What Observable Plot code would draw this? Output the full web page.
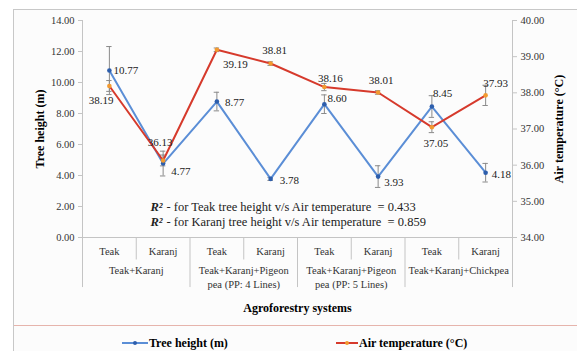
<!DOCTYPE html>
<html>
<head>
<meta charset="utf-8">
<script src="https://cdn.jsdelivr.net/npm/d3@7"></script>
<script src="https://cdn.jsdelivr.net/npm/@observablehq/plot@0.6"></script>
<style>
  html, body { margin: 0; padding: 0; background: #ffffff; }
  #chart { width: 577px; height: 351px; overflow: hidden; }
  #chart svg text { font-family: 'Liberation Serif', 'Times New Roman', serif; }
  g[aria-label="y-axis tick label"] text { font-size: 10.5px; fill: #333; }
  g[aria-label="y-axis label"] text { font-weight: bold; font-size: 12px; fill: #000; }
</style>
</head>
<body>
<div id="chart"></div>
<script>
// ---- data ----
const subcats = ["Teak", "Karanj", "Teak", "Karanj", "Teak", "Karanj", "Teak", "Karanj"];
const groups = ["Teak+Karanj", "Teak+Karanj+Pigeon\npea (PP: 4 Lines)", "Teak+Karanj+Pigeon\npea (PP: 5 Lines)", "Teak+Karanj+Chickpea"];
const treeHeight = [10.77, 4.77, 8.77, 3.78, 8.60, 3.93, 8.45, 4.18];
const treeHeightErr = [1.55, 0.8, 0.6, 0.1, 0.6, 0.7, 0.7, 0.6];
const airTemp = [38.19, 36.13, 39.19, 38.81, 38.16, 38.01, 37.05, 37.93];
const airTempErr = [0.15, 0.15, 0.05, 0.05, 0.1, 0.05, 0.15, 0.28];
const leftTicks = [0, 2, 4, 6, 8, 10, 12, 14];
const rightTicks = [34, 35, 36, 37, 38, 39, 40];
const r2Lines = ["- for Teak tree height v/s Air temperature  = 0.433", "- for Karanj tree height v/s Air temperature  = 0.859"];
const legendLabels = ["Tree height (m)", "Air temperature (°C)"];

// label offsets (pixels) — layout only
const hOff = [[4, 0, "start"], [8, 8, "start"], [8, 1, "start"], [9, 2, "start"], [3, -6, "start"], [6, 6, "start"], [1, -13, "start"], [6, 2, "start"]];
const tOff = [[4, 15, "end"], [-3, -18, "middle"], [6, 15, "start"], [4, -13, "middle"], [6, -9, "middle"], [3, -12, "middle"], [4, 16, "middle"], [10, -12, "middle"]];

// secondary axis mapping: temperature 34..40 onto height 0..14
const toH = t => (t - 34) * 14 / 6;
const fromH = h => h * 6 / 14 + 34;

const rows = subcats.map((s, i) => ({
  i, x: i + 0.5, sub: s,
  h: treeHeight[i], he: treeHeightErr[i],
  t: airTemp[i], th: toH(airTemp[i]), te: airTempErr[i]
}));
const groupRows = groups.map((g, j) => ({x: 2 * j + 1, g}));

const serif = "'Liberation Serif', 'Times New Roman', serif";
const grey = "#c4c4c4";
const errC = "#8a8a8a";
const blue = "#5b8ed6", blueDot = "#2d5eac";
const red = "#d63a2c", redDot = "#f29a30";

const labelMarks = [];
rows.forEach(d => {
  labelMarks.push(Plot.text([d], {x: "x", y: "h", text: d => d.h.toFixed(2), dx: hOff[d.i][0], dy: hOff[d.i][1], textAnchor: hOff[d.i][2], fontSize: 11, fontFamily: serif, fill: "#222"}));
  labelMarks.push(Plot.text([d], {x: "x", y: "th", text: d => d.t.toFixed(2), dx: tOff[d.i][0], dy: tOff[d.i][1], textAnchor: tOff[d.i][2], fontSize: 11, fontFamily: serif, fill: "#222"}));
});

const chart = Plot.plot({
  width: 577,
  height: 351,
  marginTop: 20,
  marginBottom: 114,
  marginLeft: 82,
  marginRight: 65,
  style: {fontFamily: serif, fontSize: "10px", color: "#333", background: "transparent"},
  x: {domain: [0, 8], axis: null},
  y: {domain: [0, 14]},
  marks: [
    // frame lines
    Plot.ruleY([0], {x1: 0, x2: 8, stroke: grey}),
    Plot.ruleX([0, 8], {y1: -3.23, y2: 14, stroke: grey}),
    Plot.ruleX([1, 3, 5, 7], {y1: 0, y2: -1.45, stroke: grey}),
    Plot.ruleX([2, 4, 6], {y1: 0, y2: -3.23, stroke: grey}),
    // axes
    Plot.axisY({ticks: leftTicks, tickFormat: d => d.toFixed(2), tickSize: 4, tickPadding: 4, fontFamily: serif, label: "Tree height (m)", labelAnchor: "center", labelArrow: "none", labelOffset: 47, stroke: grey}),
    Plot.axisY({anchor: "right", ticks: rightTicks.map(toH), tickFormat: v => fromH(v).toFixed(2), tickSize: 4, tickPadding: 4, fontFamily: serif, label: "Air temperature (°C)", labelAnchor: "center", labelArrow: "none", labelOffset: 50, stroke: grey}),
    // category labels
    Plot.text(rows, {x: "x", y: 0, text: "sub", dy: 14, fontSize: 10.5, fontFamily: serif, fill: "#333"}),
    Plot.text(groupRows, {x: "x", y: 0, text: "g", dy: 26, lineAnchor: "top", lineHeight: 1.35, fontSize: 10.5, fontFamily: serif, fill: "#333"}),
    Plot.text(["Agroforestry systems"], {x: 4, y: 0, text: d => d, dy: 71, fontSize: 12, fontWeight: "bold", fontFamily: serif, fill: "#000"}),
    // error bars
    Plot.ruleX(rows, {x: "x", y1: d => d.h - d.he, y2: d => d.h + d.he, stroke: errC}),
    Plot.ruleY(rows, {y: d => d.h + d.he, x1: d => d.x - 0.05, x2: d => d.x + 0.05, stroke: errC}),
    Plot.ruleY(rows, {y: d => d.h - d.he, x1: d => d.x - 0.05, x2: d => d.x + 0.05, stroke: errC}),
    Plot.ruleX(rows, {x: "x", y1: d => toH(d.t - d.te), y2: d => toH(d.t + d.te), stroke: errC}),
    Plot.ruleY(rows, {y: d => toH(d.t + d.te), x1: d => d.x - 0.05, x2: d => d.x + 0.05, stroke: errC}),
    Plot.ruleY(rows, {y: d => toH(d.t - d.te), x1: d => d.x - 0.05, x2: d => d.x + 0.05, stroke: errC}),
    // series
    Plot.line(rows, {x: "x", y: "h", stroke: blue, strokeWidth: 2}),
    Plot.dot(rows, {x: "x", y: "h", r: 2.3, fill: blueDot}),
    Plot.line(rows, {x: "x", y: "th", stroke: red, strokeWidth: 2}),
    Plot.dot(rows, {x: "x", y: "th", r: 2.3, fill: redDot}),
    ...labelMarks,
    // R² annotation
    Plot.text(["R²", "R²"], {x: 1.265, y: (d, i) => [1.94, 0.97][i], text: d => d, textAnchor: "start", fontSize: 12.5, fontWeight: "bold", fontStyle: "italic", fontFamily: serif, fill: "#222"}),
    Plot.text(r2Lines, {x: 1.265, y: (d, i) => [1.94, 0.97][i], text: d => d, textAnchor: "start", dx: 16, fontSize: 12.5, fontFamily: serif, fill: "#222"})
  ]
});

document.getElementById("chart").appendChild(chart);

// outer box, separator and legend
const svg = d3.select(chart);
svg.insert("rect", ":first-child")
  .attr("x", 13.5).attr("y", 9.5).attr("width", 600).attr("height", 400)
  .attr("fill", "#fcfcfc").attr("stroke", "#c8c8c8");
svg.append("line").attr("x1", 14).attr("x2", 577).attr("y1", 325.5).attr("y2", 325.5).attr("stroke", "#e6b4ac").attr("stroke-width", 1.2);
const leg = svg.append("g").attr("font-family", serif).attr("font-size", 12).attr("font-weight", "bold").attr("text-anchor", "start");
const legItems = [{x: 122, w: 26, c: blue, dc: blueDot, label: legendLabels[0]}, {x: 336, w: 22, c: red, dc: redDot, label: legendLabels[1]}];
legItems.forEach(it => {
  leg.append("line").attr("x1", it.x).attr("x2", it.x + it.w).attr("y1", 343).attr("y2", 343).attr("stroke", it.c).attr("stroke-width", 2);
  leg.append("circle").attr("cx", it.x + it.w / 2).attr("cy", 343).attr("r", 2).attr("fill", it.dc);
  leg.append("text").attr("x", it.x + it.w + 1).attr("y", 343).attr("dy", "0.35em").attr("text-anchor", "start").attr("fill", "#000").text(it.label);
});
</script>
</body>
</html>
